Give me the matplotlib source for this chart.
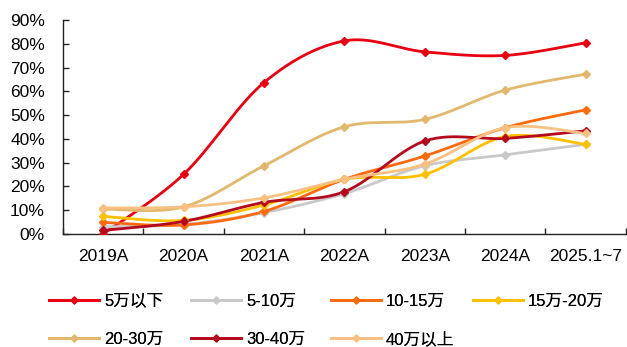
import numpy as np
import matplotlib
matplotlib.use("Agg")
import matplotlib.pyplot as plt
from matplotlib.ticker import FixedLocator, PercentFormatter

plt.rcParams['font.family'] = ['Liberation Sans', 'Noto Sans CJK SC', 'DejaVu Sans']

categories = ['2019A', '2020A', '2021A', '2022A', '2023A', '2024A', '2025.1~7']

series_names = ['5万以下', '5-10万', '10-15万', '15万-20万', '20-30万', '30-40万', '40万以上']
under_5 = [0.0, 25.1, 63.7, 81.2, 76.6, 75.1, 80.4]
from_5_to_10 = [3.0, 4.0, 9.0, 17.0, 28.7, 33.3, 37.7]
from_10_to_15 = [4.9, 3.8, 9.5, 23.0, 32.8, 44.7, 52.2]
from_15_to_20 = [7.4, 5.7, 12.2, 23.0, 25.1, 41.0, 37.7]
from_20_to_30 = [10.5, 11.4, 28.7, 45.1, 48.2, 60.5, 67.2]
from_30_to_40 = [1.5, 5.3, 13.3, 17.8, 39.1, 40.2, 43.4]
over_40 = [11.0, 11.4, 15.2, 23.0, 29.4, 44.7, 42.3]

series_values = [under_5, from_5_to_10, from_10_to_15, from_15_to_20,
                 from_20_to_30, from_30_to_40, over_40]
colors = ['#E60012', '#C9C9C9', '#FF6A0E', '#FFC000', '#E2B86E', '#B40A1E', '#F8C182']


def smooth(xs, ys, n=30):
    """Cubic Bezier smoothing through every point (Catmull-Rom style)."""
    xs = np.asarray(xs, float)
    ys = np.asarray(ys, float)
    px = np.concatenate([[xs[0]], xs, [xs[-1]]])
    py = np.concatenate([[ys[0]], ys, [ys[-1]]])
    out_x, out_y = [], []
    t = np.linspace(0, 1, n)
    for i in range(len(xs) - 1):
        p0 = np.array([px[i], py[i]])
        p1 = np.array([px[i + 1], py[i + 1]])
        p2 = np.array([px[i + 2], py[i + 2]])
        p3 = np.array([px[i + 3], py[i + 3]])
        c1 = p1 + (p2 - p0) / 6
        c2 = p2 - (p3 - p1) / 6
        pts = ((1 - t)[:, None] ** 3 * p1 + 3 * ((1 - t) ** 2 * t)[:, None] * c1
               + 3 * ((1 - t) * t ** 2)[:, None] * c2 + (t ** 3)[:, None] * p2)
        out_x.append(pts[:, 0])
        out_y.append(pts[:, 1])
    return np.concatenate(out_x), np.concatenate(out_y)


fig = plt.figure(figsize=(6.27, 3.47), dpi=100)
ax = fig.add_axes([0.1005, 0.3256, 0.8975, 0.6168])

x = np.arange(len(categories))
handles = []
for name, vals, c in zip(series_names, series_values, colors):
    sx, sy = smooth(x, vals)
    ax.plot(sx, sy, color=c, lw=2.0, solid_capstyle='round', zorder=2)
    ax.plot(x, vals, linestyle='none', marker='D', ms=4.5, color=c, zorder=3)
    h, = ax.plot([], [], color=c, lw=2.0, marker='D', ms=3.5, label=name)
    handles.append(h)

ax.set_xlim(-0.5, len(categories) - 0.5)
ax.set_ylim(0, 90)
ax.yaxis.set_major_locator(FixedLocator(np.arange(0, 91, 10)))
ax.yaxis.set_major_formatter(PercentFormatter(decimals=0))

ax.set_xticks(x)
ax.set_xticklabels(categories)
ax.xaxis.set_minor_locator(FixedLocator(np.arange(-0.5, len(categories), 1)))
ax.tick_params(axis='x', which='major', length=0, pad=11, labelsize=12.5, colors='#000000')
ax.tick_params(axis='x', which='minor', direction='in', length=4, width=1, color='#222222')
ax.tick_params(axis='y', direction='in', length=4, width=1, pad=13, labelsize=12.5,
               color='#222222')

for s in ['top', 'right']:
    ax.spines[s].set_visible(False)
for s in ['left', 'bottom']:
    ax.spines[s].set_color('#222222')
    ax.spines[s].set_linewidth(1.0)

# Legend laid out as an evenly spaced grid: four entries on the first row, three on the second
W, H = 627.0, 347.0
col_left = [49, 191, 331, 473]
row_y = [301, 339]
for i, h in enumerate(handles):
    r, col = divmod(i, 4)
    leg = fig.legend(handles=[h], loc='center left',
                     bbox_to_anchor=(col_left[col] / W, 1 - row_y[r] / H),
                     frameon=False, fontsize=12, handlelength=3.0,
                     handletextpad=0.3, borderaxespad=0, borderpad=0)
    fig.add_artist(leg)

fig.savefig('out.png', dpi=100)
